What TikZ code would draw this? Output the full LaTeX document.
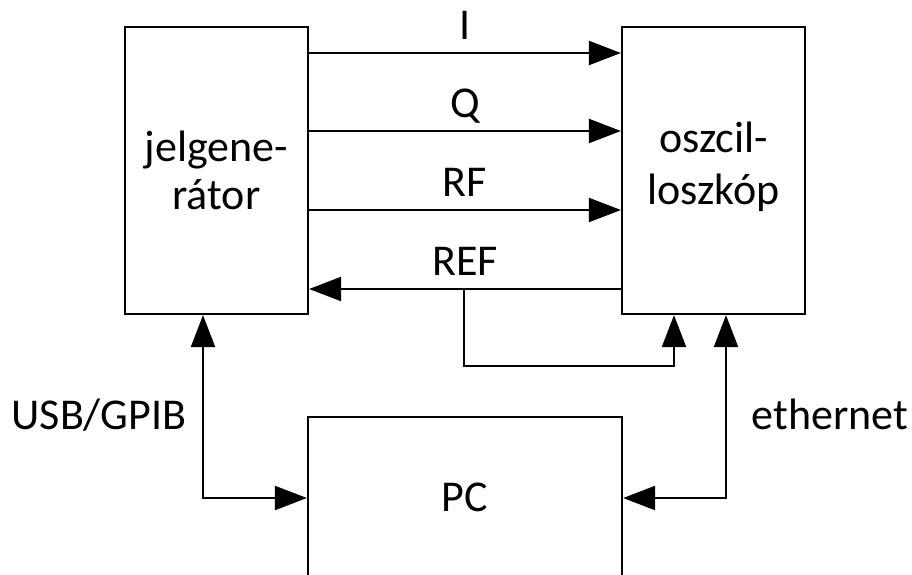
\documentclass[tikz,border=0pt]{standalone}
\usepackage{fontspec}
\setmainfont{Carlito}
\usetikzlibrary{arrows.meta,calc}
\begin{document}
\begin{tikzpicture}[x=1pt,y=-1pt,
  every node/.style={font=\fontsize{44}{48}\selectfont},
  blk/.style={draw,line width=2.2pt,rectangle,inner sep=0pt,align=center},
  ln/.style={line width=2.2pt},
  tip/.tip={Triangle[length=32pt,width=24pt]},
  arr/.style={ln,-tip},
  darr/.style={ln,tip-tip}]
\useasboundingbox (0,0) rectangle (912,574);
\node[blk,minimum width=183pt,minimum height=287pt] (gen) at (216.5,170.5) {jelgene-\\rátor};
\node[blk,minimum width=183pt,minimum height=287pt] (osc) at (713.5,170.5) {};
\node[align=center] (osctext) at (713.5,167) {oszcil-\\[4pt]loszkóp};
\node[blk,minimum width=314pt,minimum height=160pt] (pc) at (465,497) {PC};
% forward signals
\draw[arr] (gen.east |- 0,53) -- node[anchor=base,yshift=14pt] (lI) {I} (osc.west |- 0,53);
\draw[arr] (gen.east |- 0,131) -- node[anchor=base,yshift=14pt] (lQ) {Q} (osc.west |- 0,131);
\draw[arr] (gen.east |- 0,210) -- node[anchor=base,yshift=14pt] (lRF) {RF} (osc.west |- 0,210);
\draw[arr] (osc.west |- 0,289) -- node[anchor=base,yshift=14pt] (lREF) {REF} (gen.east |- 0,289);
% REF branch
\coordinate (rsplit) at (464,289);
\coordinate (rturn) at (674,366);
\draw[arr] (rsplit) |- (rturn) -- (osc.south -| rturn);
% USB/GPIB
\coordinate (ucorner) at (203,498);
\draw[darr] (gen.south -| ucorner) -- (ucorner) -- (pc.west |- ucorner);
\node[anchor=base] (lusb) at (99,429) {USB/GPIB};
% ethernet
\coordinate (ecorner) at (726,498);
\draw[darr] (osc.south -| ecorner) -- (ecorner) -- (pc.east |- ecorner);
\node[anchor=base] (leth) at (830,429) {ethernet};
\end{tikzpicture}
\end{document}
